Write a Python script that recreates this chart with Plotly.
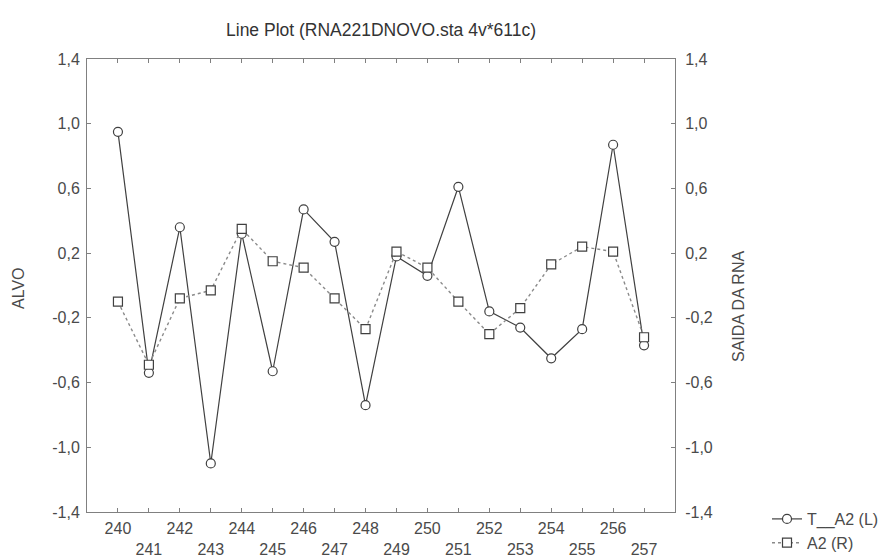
import plotly.graph_objects as go

# ---- data ----
cases = list(range(240, 258))
t_a2 = [0.95, -0.54, 0.36, -1.10, 0.32, -0.53, 0.47, 0.27, -0.74,
        0.18, 0.06, 0.61, -0.16, -0.26, -0.45, -0.27, 0.87, -0.37]
a2 = [-0.10, -0.49, -0.08, -0.03, 0.35, 0.15, 0.11, -0.08, -0.27,
      0.21, 0.11, -0.10, -0.30, -0.14, 0.13, 0.24, 0.21, -0.32]
x_tick_labels = ["240", "<br>241", "242", "<br>243", "244", "<br>245", "246", "<br>247",
                 "248", "<br>249", "250", "<br>251", "252", "<br>253", "254", "<br>255",
                 "256", "<br>257"]
y_tick_vals = [-1.4, -1.0, -0.6, -0.2, 0.2, 0.6, 1.0, 1.4]
y_tick_labels = ["-1,4", "-1,0", "-0,6", "-0,2", "0,2", "0,6", "1,0", "1,4"]

FONT = "Liberation Sans, Arial, sans-serif"
TXT = "#4a4a4a"
FRAME = "#808080"
FS = 16

fig = go.Figure()
fig.add_trace(go.Scatter(
    x=cases, y=t_a2, name="T__A2 (L)", mode="lines+markers",
    line=dict(color="#404040", width=1.2),
    marker=dict(symbol="circle", size=9, color="white",
                line=dict(color="#404040", width=1.2)),
    yaxis="y"))
fig.add_trace(go.Scatter(
    x=cases, y=a2, name="A2 (R)", mode="lines+markers",
    line=dict(color="#8a8a8a", width=1.4, dash="dot"),
    marker=dict(symbol="square", size=9, color="white",
                line=dict(color="#404040", width=1.2)),
    yaxis="y2"))

axis_common = dict(ticks="inside", ticklen=4, tickcolor=FRAME, showline=True, linecolor=FRAME,
                   linewidth=1, showgrid=False, zeroline=False, automargin=False,
                   tickfont=dict(size=FS, color=TXT))

fig.update_layout(
    width=893, height=559,
    margin=dict(l=87, r=218, t=59, b=47, autoexpand=False),
    paper_bgcolor="white", plot_bgcolor="white",
    font=dict(family=FONT, size=FS, color=TXT),
    title=dict(text="Line Plot (RNA221DNOVO.sta 4v*611c)", x=381 / 893, xanchor="center",
               y=1 - 30 / 559, yanchor="middle",
               font=dict(family=FONT, size=17.5, color="#333333")),
    xaxis=dict(range=[239, 258], tickmode="array", tickvals=cases, ticktext=x_tick_labels,
               mirror="ticks", ticklabelstandoff=2, **axis_common),
    yaxis=dict(range=[-1.4, 1.4], tickmode="array", tickvals=y_tick_vals, ticktext=y_tick_labels,
               ticklabelstandoff=3, **axis_common),
    yaxis2=dict(range=[-1.4, 1.4], tickmode="array", tickvals=y_tick_vals, ticktext=y_tick_labels,
                overlaying="y", side="right", ticklabelstandoff=6, **axis_common),
    legend=dict(x=(767 - 87) / 588, y=10 / 453, xanchor="left", yanchor="top", itemwidth=30,
                font=dict(size=FS, color=TXT), bgcolor="rgba(0,0,0,0)"),
    showlegend=True,
    annotations=[
        dict(text="ALVO", x=(18 - 87) / 588, y=(512 - 288) / 453, xref="paper", yref="paper",
             xanchor="center", yanchor="middle", showarrow=False,
             textangle=-90, font=dict(size=FS, color=TXT)),
        dict(text="SAIDA DA RNA", x=(738 - 87) / 588, y=(512 - 307) / 453, xref="paper", yref="paper",
             xanchor="center", yanchor="middle", showarrow=False,
             textangle=-90, font=dict(size=FS, color=TXT)),
    ],
)

fig.write_html("out.html")
